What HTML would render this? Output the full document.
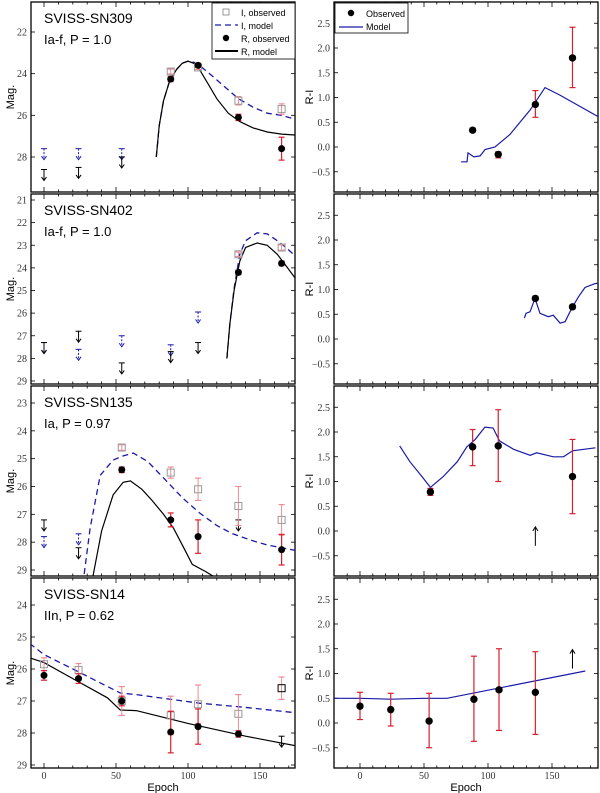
<!DOCTYPE html>
<html><head><meta charset="utf-8">
<style>
html,body{margin:0;padding:0;background:#fff;}
svg{display:block;font-family:"Liberation Sans",sans-serif;}
.tk{font-family:"Liberation Serif",serif;font-size:10px;fill:#333;}
</style></head>
<body>
<svg id="fig" width="600" height="793" viewBox="0 0 600 793" xmlns="http://www.w3.org/2000/svg"></svg>
<script>
// ---------- DATA ----------
// Panel 1: SVISS-SN309
const sn309_R_epoch=[88,107,135,165];
const sn309_R_mag=[24.26,23.6,26.1,27.6];
const sn309_R_err=[0.12,0.1,0.15,0.55];
const sn309_I_epoch=[88,107,135,165];
const sn309_I_mag=[23.9,23.7,25.3,25.7];
const sn309_I_err=[0.12,0.1,0.2,0.25];
const sn309_Rlim_epoch=[0,24,54];
const sn309_Rlim_mag=[28.6,28.5,28.0];
const sn309_Ilim_epoch=[0,24,54];
const sn309_Ilim_mag=[27.6,27.6,27.6];
const sn309_Rmodel=[[78,28.0],[80,26.5],[83,25.3],[87,24.4],[92,23.8],[96,23.5],[100,23.4],[104,23.5],[108,23.8],[114,24.5],[120,25.2],[128,25.9],[136,26.3],[145,26.6],[155,26.8],[165,26.9],[175,26.95]];
const sn309_Imodel=[[78,28.0],[80,26.5],[83,25.3],[87,24.4],[92,23.8],[96,23.5],[100,23.4],[104,23.45],[108,23.6],[115,24.0],[125,24.6],[135,25.2],[145,25.6],[155,25.9],[165,26.0],[175,26.2]];
// Panel 2: SVISS-SN402
const sn402_R_epoch=[135,165];
const sn402_R_mag=[24.2,23.8];
const sn402_R_err=[0.1,0.1];
const sn402_I_epoch=[135,165];
const sn402_I_mag=[23.4,23.1];
const sn402_I_err=[0.1,0.12];
const sn402_Rlim_epoch=[0,24,54,88,107];
const sn402_Rlim_mag=[27.3,26.8,28.2,27.7,27.3];
const sn402_Ilim_epoch=[0,24,54,88,107];
const sn402_Ilim_mag=[27.3,27.6,27.0,27.4,25.95];
const sn402_Rmodel=[[127,28.0],[129,26.5],[132,25.0],[136,23.7],[140,23.1],[148,22.9],[155,23.0],[162,23.4],[168,23.9],[175,24.5]];
const sn402_Imodel=[[127,28.0],[129,26.5],[132,24.9],[136,23.4],[140,22.8],[148,22.45],[155,22.5],[162,22.8],[168,23.1],[175,23.5]];
// Panel 3: SVISS-SN135
const sn135_R_epoch=[54,88,107,165];
const sn135_R_mag=[25.4,27.2,27.8,28.27];
const sn135_R_err=[0.1,0.25,0.6,0.55];
const sn135_I_epoch=[54,88,107,135,165];
const sn135_I_mag=[24.6,25.5,26.1,26.7,27.2];
const sn135_I_err=[0.1,0.2,0.4,0.7,0.55];
const sn135_Rlim_epoch=[0,24,135];
const sn135_Rlim_mag=[27.2,28.2,27.2];
const sn135_Ilim_epoch=[0,24];
const sn135_Ilim_mag=[27.8,27.7];
const sn135_Rmodel=[[33,29.5],[40,27.6],[48,26.3],[55,25.85],[60,25.8],[68,26.1],[75,26.5],[83,27.0],[90,27.5],[97,28.2],[103,28.8],[112,29.05],[120,29.3]];
const sn135_Imodel=[[27,29.5],[32,27.5],[39,25.6],[48,25.05],[55,24.9],[62,24.8],[72,25.1],[85,25.8],[96,26.4],[108,26.95],[120,27.4],[131,27.7],[145,27.95],[155,28.1],[165,28.2],[175,28.3]];
// Panel 4: SVISS-SN14
const sn14_R_epoch=[0,24,54,88,107,135];
const sn14_R_mag=[26.2,26.3,27.0,27.97,27.8,28.03];
const sn14_R_err=[0.15,0.15,0.15,0.65,0.55,0.1];
const sn14_I_epoch=[0,24,54,88,107,135,165];
const sn14_I_mag=[25.85,26.03,27.0,27.45,27.1,27.4,26.6];
const sn14_I_err=[0.2,0.2,0.45,0.6,0.6,0.6,0.35];
const sn14_Rlim_epoch=[165];
const sn14_Rlim_mag=[28.1];
const sn14_Ilim_epoch=[];
const sn14_Ilim_mag=[];
const sn14_Rmodel=[[-10,25.65],[0,25.8],[20,26.3],[44,26.9],[53,27.28],[64,27.3],[100,27.7],[140,28.1],[175,28.4]];
const sn14_Imodel=[[-10,25.2],[0,25.55],[20,26.0],[53,26.75],[64,26.8],[108,27.07],[140,27.2],[175,27.37]];
// Colour panels (R-I)
const c309_epoch=[88,108,137,166];
const c309_val=[0.34,-0.15,0.86,1.8];
const c309_lo=[0.3,-0.22,0.6,1.2];
const c309_hi=[0.38,-0.1,1.14,2.42];
const c309_model=[[79,-0.3],[83.6,-0.3],[84.4,-0.12],[89,-0.2],[93.8,-0.18],[97.7,-0.05],[105.5,0.0],[117,0.25],[133,0.75],[144.5,1.2],[156,1.05],[187,0.6]];
const c402_epoch=[137,166];
const c402_val=[0.82,0.65];
const c402_lo=[0.78,0.61];
const c402_hi=[0.86,0.69];
const c402_model=[[128.4,0.42],[129.7,0.52],[132.8,0.55],[136.7,0.82],[140.6,0.52],[147.1,0.45],[151,0.48],[156.3,0.32],[160.2,0.35],[165.4,0.62],[170.6,0.85],[175.8,1.04],[183.6,1.12],[187,1.13]];
const c135_epoch=[55,88,108,166];
const c135_val=[0.79,1.7,1.72,1.1];
const c135_lo=[0.72,1.32,1.0,0.35];
const c135_hi=[0.86,2.05,2.45,1.85];
const c135_lim_epoch=[137];
const c135_lim_val=[-0.3];
const c135_model=[[31,1.72],[39,1.4],[49,1.08],[55,0.88],[65,1.1],[76,1.4],[83.4,1.7],[90,1.85],[97.6,2.1],[104,2.08],[109,1.82],[120,1.65],[133,1.53],[138,1.58],[151,1.5],[159,1.5],[166,1.62],[184,1.68]];
const c14_epoch=[0,24,54,89,108.6,137];
const c14_val=[0.34,0.27,0.04,0.48,0.67,0.62];
const c14_lo=[0.07,-0.06,-0.5,-0.37,-0.15,-0.23];
const c14_hi=[0.62,0.6,0.6,1.35,1.5,1.44];
const c14_lim_epoch=[166];
const c14_lim_val=[1.1];
const c14_model=[[-20,0.5],[0,0.5],[24,0.48],[50,0.5],[68,0.5],[176,1.05]];
// Axis ticks
const epochTicks=[0,50,100,150];
const magTicks309=[22,24,26,28];
const magTicks402=[21,22,23,24,25,26,27,28,29];
const magTicks135=[23,24,25,26,27,28,29];
const magTicks14=[24,25,26,27,28,29];
const colorTicks=[-0.5,0.0,0.5,1.0,1.5,2.0,2.5];

// ---------- DRAWING ----------
const NS="http://www.w3.org/2000/svg";
const svg=document.getElementById('fig');
function mk(tag,attrs,parent){const e=document.createElementNS(NS,tag);for(const k in attrs)e.setAttribute(k,attrs[k]);(parent||svg).appendChild(e);return e;}
const RED="#d8202e", LRED="#f08a94", BLUE="#1a1aa8";
const tops=[2,194,386,578], H=190;
const LX0=31,LX1=295,RX0=334,RX1=598;
const lx=e=>44+e*1.44;
const rx=e=>360+e*1.28;
const magScales=[[22,32,28,157],[21,200,29,381],[23,403,29,570],[26,669,29,765]];
function ly(p){const s=magScales[p];return m=>s[1]+(m-s[0])*(s[3]-s[1])/(s[2]-s[0]);}
function ry(p){return v=>tops[p]+145-v*49.5;}

function frame(x0,x1,top,name,xs,ticksY,ys,fmt,p){
  const g=mk('g',{});
  
  
  const r=mk('rect',{x:x0,y:top,width:x1-x0,height:H,fill:'none',stroke:'#000','stroke-width':1.3},g);
  
  
  for(let e=-20;e<=190;e+=10){const x=xs(e);if(x<=x0+1||x>=x1-1)continue;const L=(e%50===0)?5:2.5;
    mk('line',{x1:x,x2:x,y1:top+H,y2:top+H-L,stroke:'#000','stroke-width':0.8},g);
    mk('line',{x1:x,x2:x,y1:top,y2:top+L,stroke:'#000','stroke-width':0.8},g);}
  ticksY.forEach(t=>{const y=ys(t);if(y<top+2||y>top+H-2)return;
    mk('line',{x1:x0,x2:x0+4,y1:y,y2:y,stroke:'#000','stroke-width':0.8},g);
    mk('line',{x1:x1,x2:x1-4,y1:y,y2:y,stroke:'#000','stroke-width':0.8},g);
    const t2=mk('text',{x:x0-4,y:y+3.5,'text-anchor':'end',class:'tk'},g);t2.textContent=fmt(t);
    
    
  });
  const cid='clip'+name;
  const cp=mk('clipPath',{id:cid},g);mk('rect',{x:x0,y:top,width:x1-x0,height:H},cp);
  return mk('g',{'clip-path':'url(#'+cid+')'},g);
}
function path(g,pts,xs,ys,attrs,name){const d=pts.map((p,i)=>(i?'L':'M')+xs(p[0]).toFixed(1)+','+ys(p[1]).toFixed(1)).join('');
  const e=mk('path',Object.assign({d:d,fill:'none'},attrs),g);return e;}
function errbar(g,x,y1,y2,col,w){mk('line',{x1:x,x2:x,y1:y1,y2:y2,stroke:col,'stroke-width':w||1.2},g);
  mk('line',{x1:x-3,x2:x+3,y1:y1,y2:y1,stroke:col,'stroke-width':1.2},g);mk('line',{x1:x-3,x2:x+3,y1:y2,y2:y2,stroke:col,'stroke-width':1.2},g);}
function arrow(g,x,y,dir,col,dash,name){const len=11,y2=y+dir*len;
  const a=mk('g',{},g);
  mk('line',{x1:x-3,x2:x+3,y1:y,y2:y,stroke:col,'stroke-width':1},a);
  mk('line',{x1:x,x2:x,y1:y,y2:y2,stroke:col,'stroke-width':1,'stroke-dasharray':dash?'2,1.5':'none'},a);
  mk('path',{d:`M${x-2.5},${y2-dir*3.5}L${x},${y2}L${x+2.5},${y2-dir*3.5}`,fill:'none',stroke:col,'stroke-width':1},a);}

const left=[
 {n:'sn309',title:'SVISS-SN309',sub:'Ia-f, P = 1.0',ticks:magTicks309,R:[sn309_R_epoch,sn309_R_mag,sn309_R_err],I:[sn309_I_epoch,sn309_I_mag,sn309_I_err],RL:[sn309_Rlim_epoch,sn309_Rlim_mag],IL:[sn309_Ilim_epoch,sn309_Ilim_mag],RM:sn309_Rmodel,IM:sn309_Imodel},
 {n:'sn402',title:'SVISS-SN402',sub:'Ia-f, P = 1.0',ticks:magTicks402,R:[sn402_R_epoch,sn402_R_mag,sn402_R_err],I:[sn402_I_epoch,sn402_I_mag,sn402_I_err],RL:[sn402_Rlim_epoch,sn402_Rlim_mag],IL:[sn402_Ilim_epoch,sn402_Ilim_mag],RM:sn402_Rmodel,IM:sn402_Imodel},
 {n:'sn135',title:'SVISS-SN135',sub:'Ia, P = 0.97',ticks:magTicks135,R:[sn135_R_epoch,sn135_R_mag,sn135_R_err],I:[sn135_I_epoch,sn135_I_mag,sn135_I_err],RL:[sn135_Rlim_epoch,sn135_Rlim_mag],IL:[sn135_Ilim_epoch,sn135_Ilim_mag],RM:sn135_Rmodel,IM:sn135_Imodel},
 {n:'sn14',title:'SVISS-SN14',sub:'IIn, P = 0.62',ticks:magTicks14,R:[sn14_R_epoch,sn14_R_mag,sn14_R_err],I:[sn14_I_epoch,sn14_I_mag,sn14_I_err],RL:[sn14_Rlim_epoch,sn14_Rlim_mag],IL:[sn14_Ilim_epoch,sn14_Ilim_mag],RM:sn14_Rmodel,IM:sn14_Imodel}
];
left.forEach((P,p)=>{
  const ys=ly(p), top=tops[p];
  const g=frame(LX0,LX1,top,'light-curve-'+P.n,lx,P.ticks,ys,t=>String(t),p);
  path(g,P.IM,lx,ys,{stroke:BLUE,'stroke-width':1.3,'stroke-dasharray':'6,4'},'i-model-line');
  path(g,P.RM,lx,ys,{stroke:'#000','stroke-width':1.2},'r-model-line');
  P.IL[0].forEach((e,i)=>arrow(g,lx(e),ys(P.IL[1][i]),1,BLUE,true,'i-upper-limit'));
  P.RL[0].forEach((e,i)=>arrow(g,lx(e),ys(P.RL[1][i]),1,'#000',false,'r-upper-limit'));
  P.I[0].forEach((e,i)=>{const x=lx(e),m=P.I[1][i],er=P.I[2][i];errbar(g,x,ys(m-er),ys(m+er),LRED,1);
    const s=mk('rect',{x:x-3.5,y:ys(m)-3.5,width:7,height:7,fill:'none',stroke:(p===3&&e>150)?'#000':'#999','stroke-width':1},g);
    });
  P.R[0].forEach((e,i)=>{const x=lx(e),m=P.R[1][i],er=P.R[2][i];errbar(g,x,ys(m-er),ys(m+er),RED,1.2);
    const c=mk('circle',{cx:x,cy:ys(m),r:3.5,fill:'#000'},g);
    });
  const t=mk('text',{x:44,y:top+21,'font-size':14,fill:'#000'});t.textContent=P.title;
  
  const s=mk('text',{x:44,y:top+42,'font-size':13,fill:'#000'});s.textContent=P.sub;
  
  const yl=mk('text',{x:0,y:0,'font-size':11,'text-anchor':'middle',transform:`translate(14,${top+H/2}) rotate(-90)`});yl.textContent='Mag.';
  
});
const right=[
 {n:'sn309',E:c309_epoch,V:c309_val,L:c309_lo,Hh:c309_hi,M:c309_model,LE:[],LV:[]},
 {n:'sn402',E:c402_epoch,V:c402_val,L:c402_lo,Hh:c402_hi,M:c402_model,LE:[],LV:[]},
 {n:'sn135',E:c135_epoch,V:c135_val,L:c135_lo,Hh:c135_hi,M:c135_model,LE:c135_lim_epoch,LV:c135_lim_val},
 {n:'sn14',E:c14_epoch,V:c14_val,L:c14_lo,Hh:c14_hi,M:c14_model,LE:c14_lim_epoch,LV:c14_lim_val}
];
right.forEach((P,p)=>{
  const ys=ry(p), top=tops[p];
  const g=frame(RX0,RX1,top,'color-curve-'+P.n,rx,colorTicks,ys,t=>t<0?'\u2212'+Math.abs(t).toFixed(1):t.toFixed(1),p);
  path(g,P.M,rx,ys,{stroke:BLUE,'stroke-width':1.2},'color-model-line');
  P.LE.forEach((e,i)=>{const x=rx(e),y=ys(P.LV[i]);const a=mk('g',{},g);
    
    mk('line',{x1:x,x2:x,y1:y,y2:y-19,stroke:'#000','stroke-width':1},a);
    mk('path',{d:`M${x-2.5},${y-15}L${x},${y-19}L${x+2.5},${y-15}`,fill:'none',stroke:'#000','stroke-width':1},a);});
  P.E.forEach((e,i)=>{const x=rx(e);errbar(g,x,ys(P.L[i]),ys(P.Hh[i]),RED,1.2);
    const c=mk('circle',{cx:x,cy:ys(P.V[i]),r:3.7,fill:'#000'},g);
    });
  const yl=mk('text',{x:0,y:0,'font-size':11,'text-anchor':'middle',transform:`translate(313,${top+H/2}) rotate(-90)`});yl.textContent='R-I';
  
});
// x tick labels & titles
[[lx,163],[rx,466]].forEach(([xs,cx])=>{
  epochTicks.forEach(t=>{const e=mk('text',{x:xs(t),y:779,'text-anchor':'middle',class:'tk'});e.textContent=String(t);
    });
  const e=mk('text',{x:cx,y:791,'text-anchor':'middle','font-size':11});e.textContent='Epoch';
  
});
// legends
(function(){
  const g=mk('g',{});
  mk('rect',{x:212,y:3,width:83,height:56,fill:'#fff',stroke:'#000','stroke-width':0.8},g);
  mk('rect',{x:223,y:9,width:6,height:6,fill:'none',stroke:'#999'},g);
  mk('line',{x1:215,x2:238,y1:25,y2:25,stroke:BLUE,'stroke-width':1.3,'stroke-dasharray':'6,4'},g);
  mk('circle',{cx:226,cy:38,r:3.2,fill:'#000'},g);
  mk('line',{x1:215,x2:238,y1:51,y2:51,stroke:'#000','stroke-width':2},g);
  [['I, observed',16],['I, model',29],['R, observed',42],['R, model',55]].forEach(([t,y])=>{const e=mk('text',{x:241,y:y,'font-size':9},g);e.textContent=t;
    });
  const g2=mk('g',{});
  mk('rect',{x:335,y:3,width:73,height:30,fill:'#fff',stroke:'#000','stroke-width':0.8},g2);
  mk('circle',{cx:351,cy:13,r:3.2,fill:'#000'},g2);
  mk('line',{x1:339,x2:363,y1:27,y2:27,stroke:BLUE,'stroke-width':1.2},g2);
  [['Observed',17],['Model',30]].forEach(([t,y])=>{const e=mk('text',{x:366,y:y,'font-size':9},g2);e.textContent=t;
    });
})();
</script>
</body></html>
